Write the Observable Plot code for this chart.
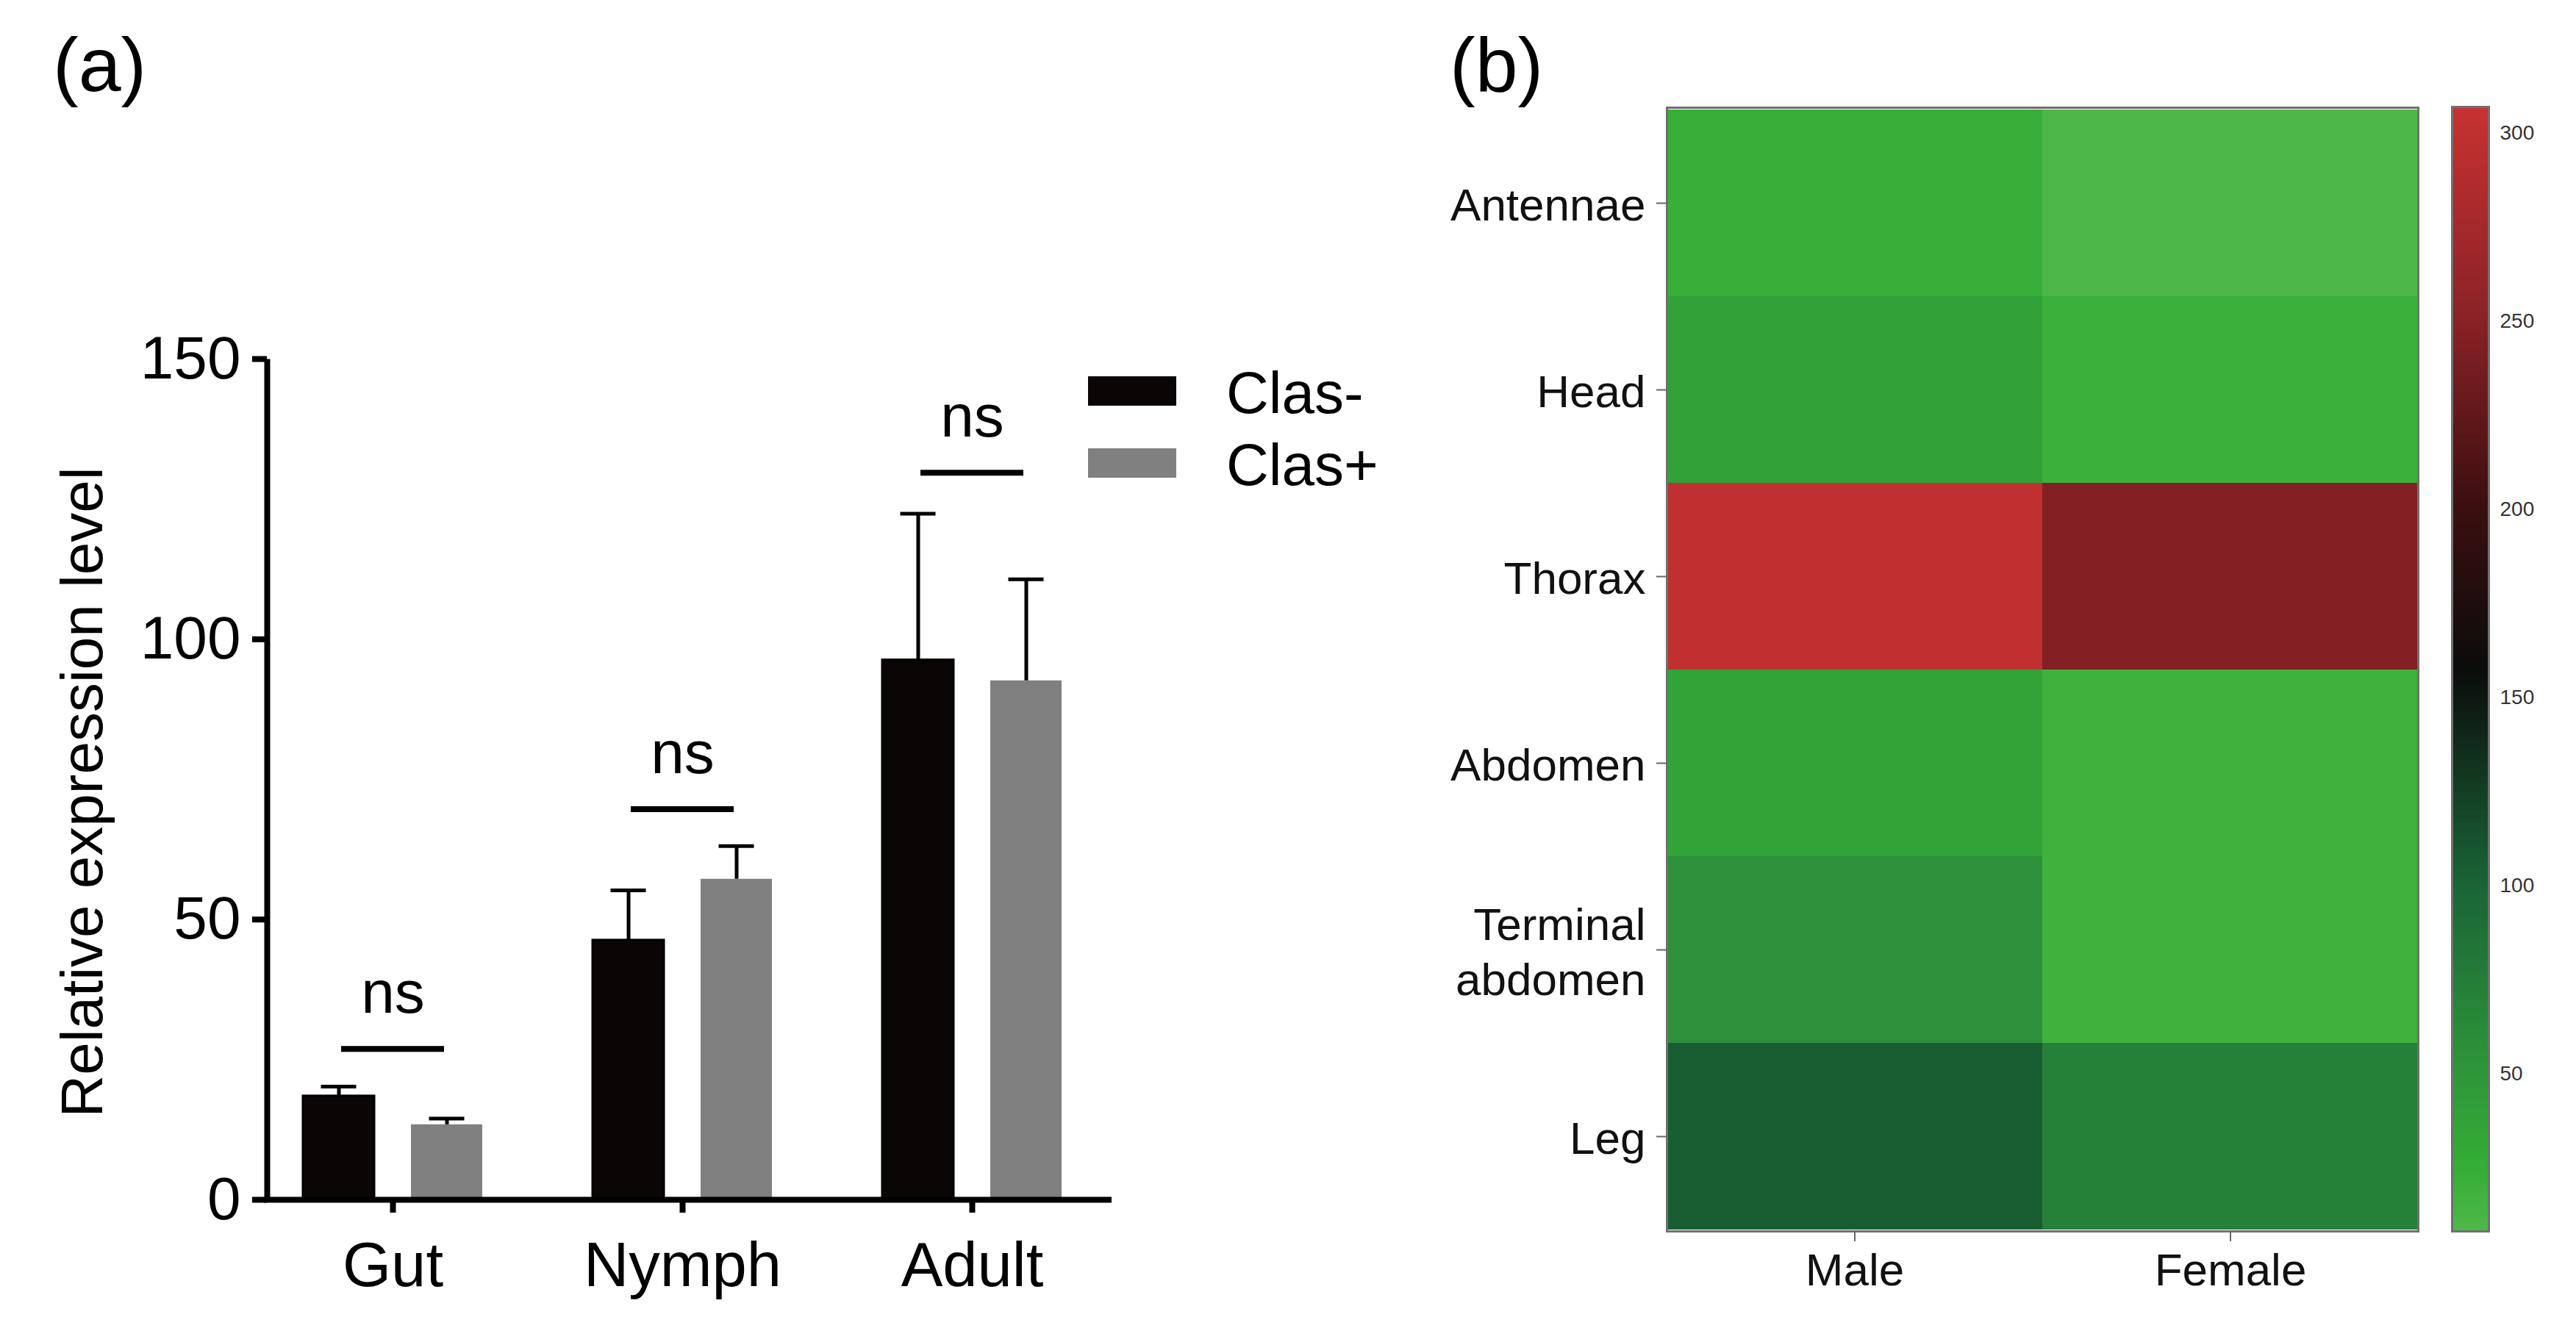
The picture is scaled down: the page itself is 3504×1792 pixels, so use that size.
<!DOCTYPE html>
<html>
<head>
<meta charset="utf-8">
<script src="https://cdn.jsdelivr.net/npm/d3@7"></script>
<script src="https://cdn.jsdelivr.net/npm/@observablehq/plot@0.6"></script>
<style>
  html, body { margin: 0; padding: 0; background: #fff; }
  #page { position: relative; width: 3504px; height: 1792px; background: #fff; overflow: hidden;
          font-family: "Liberation Sans", Arial, "DejaVu Sans", sans-serif; color: #000; }
  .abs { position: absolute; }
  .panel { position: absolute; line-height: 1; white-space: nowrap; }
  .swatch { position: absolute; width: 120px; height: 40px; }
  .legtext { position: absolute; font-size: 80px; line-height: 1; white-space: nowrap; }
  svg { overflow: visible; }
</style>
</head>
<body>
<div id="page">
  <div id="pa" class="abs" style="left:0;top:0"></div>
  <div id="pb" class="abs" style="left:1900px;top:0"></div>
  <div id="cb" class="abs" style="left:3320px;top:0"></div>

  <div class="panel" style="left:72px;top:36px;font-size:104px;">(a)</div>
  <div class="panel" style="left:1972px;top:36px;font-size:104px;">(b)</div>

  <div class="abs" style="left:-488px;top:1038px;width:1200px;height:80px;font-size:80px;line-height:1;text-align:center;transform:rotate(-90deg);transform-origin:600px 40px;white-space:nowrap;">Relative expression level</div>

  <div id="legend"></div>
</div>
<script>
// ---------- Panel (a) data ----------
const groups = ["Gut", "Nymph", "Adult"];
const seriesNames = ["Clas-", "Clas+"];
const clasMinus = [18.5, 46.3, 96.3];
const clasMinusErr = [1.7, 8.9, 26.1];
const clasPlus = [13.4, 57.2, 92.6];
const clasPlusErr = [1.1, 5.9, 18.1];
const nsHeights = [26.9, 69.7, 129.7];
const nsLabels = ["ns", "ns", "ns"];
const yTicks = [0, 50, 100, 150];
const seriesColors = ["#0a0606", "#808080"];

// ---------- Panel (b) data ----------
const tissues = ["Antennae", "Head", "Thorax", "Abdomen", "Terminal abdomen", "Leg"];
const sexes = ["Male", "Female"];
const maleValues = [22, 38, 300, 36, 55, 104];
const femaleValues = [8, 20, 245, 18, 18, 72];
const colorbarTicks = [50, 100, 150, 200, 250, 300];
const colorStops = [8, 25, 50, 100, 157, 200, 250, 307];
const colorRange = ["#4db848", "#34ad35", "#2e963a", "#1a6436", "#0b0c0b", "#3b0f10", "#8a2226", "#c83232"];

const FONT = '"Liberation Sans", Arial, "DejaVu Sans", sans-serif';

// ---------- Panel (a) ----------
const rowsMinus = groups.map((g, i) => ({group: g, value: clasMinus[i], err: clasMinusErr[i]}));
const rowsPlus = groups.map((g, i) => ({group: g, value: clasPlus[i], err: clasPlusErr[i]}));
const nsRows = groups.map((g, i) => ({group: g, y: nsHeights[i], label: nsLabels[i]}));

const A = {width: 1900, height: 1792, ml: 363, mr: 392, mt: 488, mb: 160};
const fw = A.width - A.ml - A.mr, fh = A.height - A.mt - A.mb;

const plotA = Plot.plot({
  width: A.width, height: A.height,
  marginLeft: A.ml, marginRight: A.mr, marginTop: A.mt, marginBottom: A.mb,
  style: {background: "transparent", fontFamily: FONT, color: "#000", overflow: "visible"},
  x: {domain: groups, range: [337, 1519], padding: 0},
  y: {domain: [0, 150]},
  marks: [
    Plot.barY(rowsMinus, {x: "group", y: "value", fill: seriesColors[0], stroke: "#000", strokeWidth: 3, insetLeft: 75, insetRight: 222}),
    Plot.barY(rowsPlus, {x: "group", y: "value", fill: seriesColors[1], insetLeft: 222, insetRight: 75}),
    Plot.ruleX(rowsMinus, {x: "group", y1: "value", y2: d => d.value + d.err, dx: -73.5, stroke: "#000", strokeWidth: 5}),
    Plot.ruleX(rowsPlus, {x: "group", y1: "value", y2: d => d.value + d.err, dx: 73.5, stroke: "#000", strokeWidth: 5}),
    Plot.tickY(rowsMinus, {x: "group", y: d => d.value + d.err, insetLeft: 99.5, insetRight: 246.5, stroke: "#000", strokeWidth: 5}),
    Plot.tickY(rowsPlus, {x: "group", y: d => d.value + d.err, insetLeft: 246.5, insetRight: 99.5, stroke: "#000", strokeWidth: 5}),
    Plot.tickY(nsRows, {x: "group", y: "y", insetLeft: 127, insetRight: 127, stroke: "#000", strokeWidth: 8}),
    Plot.text(nsRows, {x: "group", y: "y", text: "label", dy: -49, lineAnchor: "bottom", fontSize: 82, fill: "#000"}),
    Plot.ruleY([0], {stroke: "#000", strokeWidth: 8, strokeLinecap: "square"}),
    Plot.frame({stroke: "#000", strokeWidth: 8, fill: "none", strokeDasharray: `0 ${2 * fw + fh} ${fh}`}),
    Plot.axisY({ticks: yTicks, tickSize: 20, tickPadding: 16, fontSize: 82, stroke: "#000", strokeWidth: 8, label: null, fill: "#000"}),
    Plot.axisX({tickSize: 18, tickPadding: 39, fontSize: 85, stroke: "#000", strokeWidth: 8, label: null, fill: "#000"})
  ]
});
document.getElementById("pa").appendChild(plotA);

// legend (a)
const legend = document.getElementById("legend");
const legTops = [512, 610];
seriesNames.forEach((name, i) => {
  const sw = document.createElement("div");
  sw.className = "swatch";
  sw.style.left = "1480px";
  sw.style.top = legTops[i] + "px";
  sw.style.background = seriesColors[i];
  legend.appendChild(sw);
  const tx = document.createElement("div");
  tx.className = "legtext";
  tx.style.left = "1668px";
  tx.style.top = (legTops[i] + 20 + 29 - 66) + "px";
  tx.textContent = name;
  legend.appendChild(tx);
});

// ---------- Panel (b) ----------
const cells = [];
tissues.forEach((t, i) => {
  cells.push({tissue: t, sex: sexes[0], value: maleValues[i]});
  cells.push({tissue: t, sex: sexes[1], value: femaleValues[i]});
});

const colorScale = {type: "linear", domain: colorStops, range: colorRange, interpolate: "rgb"};

const B = {width: 1420, height: 1792, ml: 367, mr: 31, mt: 146, mb: 117};
const plotB = Plot.plot({
  width: B.width, height: B.height,
  marginLeft: B.ml, marginRight: B.mr, marginTop: B.mt, marginBottom: B.mb,
  style: {background: "transparent", fontFamily: FONT, color: "#111", overflow: "visible"},
  x: {domain: sexes, padding: 0},
  y: {domain: tissues, padding: 0},
  color: colorScale,
  marks: [
    Plot.cell(cells, {x: "sex", y: "tissue", fill: "value"}),
    Plot.frame({stroke: "#707070", strokeWidth: 3}),
    Plot.axisY({tickSize: 14, tickPadding: 15, fontSize: 62, stroke: "#666", strokeWidth: 2, label: null, fill: "#111", lineHeight: 1.2,
      tickFormat: d => d.replace(" ", "\n")}),
    Plot.axisX({tickSize: 14, tickPadding: 15, fontSize: 62, stroke: "#666", strokeWidth: 2, label: null, fill: "#111"})
  ]
});
document.getElementById("pb").appendChild(plotB);

// ---------- Colour bar ----------
const cbMin = colorStops[0], cbMax = colorStops[colorStops.length - 1];
const strips = d3.range(cbMin, cbMax, 1);
const C = {width: 184, height: 1792, ml: 15, mr: 119, mt: 145, mb: 117};
const plotC = Plot.plot({
  width: C.width, height: C.height,
  marginLeft: C.ml, marginRight: C.mr, marginTop: C.mt, marginBottom: C.mb,
  style: {background: "transparent", fontFamily: FONT, color: "#333", overflow: "visible"},
  y: {domain: [cbMin, cbMax]},
  color: colorScale,
  marks: [
    Plot.rect(strips, {y1: d => d, y2: d => Math.min(d + 1.2, cbMax), fill: d => d}),
    Plot.frame({stroke: "#707070", strokeWidth: 3}),
    Plot.axisY({anchor: "right", ticks: colorbarTicks, tickSize: 0, tickPadding: 15, fontSize: 28, fill: "#333", label: null})
  ]
});
document.getElementById("cb").appendChild(plotC);
</script>
</body>
</html>
